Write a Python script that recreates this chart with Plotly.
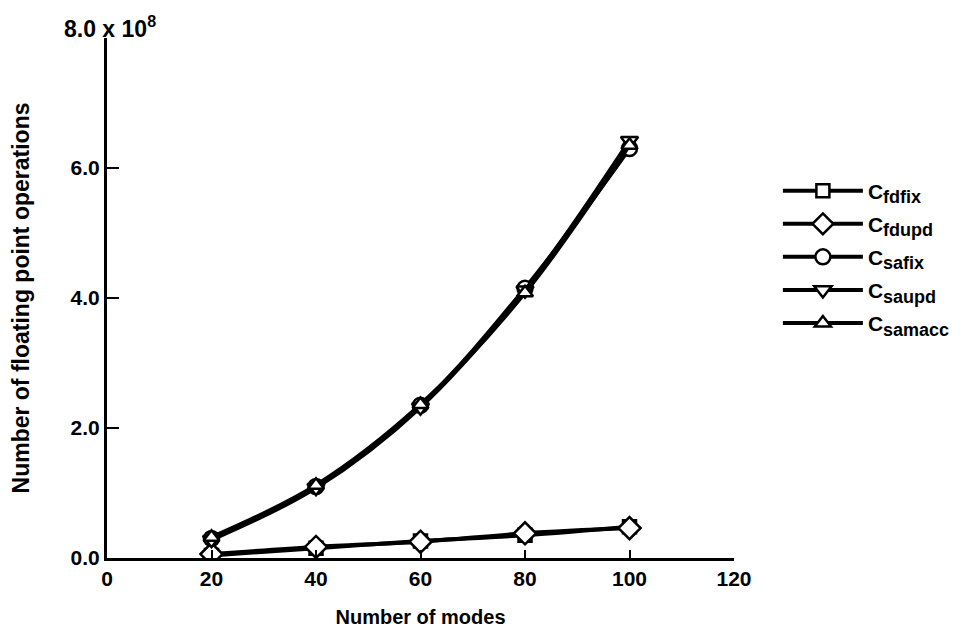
import plotly.graph_objects as go

# number of modes
modes = [20, 40, 60, 80, 100]

# floating point operations (units of 1e8)
c_fdfix = [0.04, 0.15, 0.26, 0.35, 0.48]
c_fdupd = [0.06, 0.17, 0.25, 0.38, 0.46]
c_safix = [0.30, 1.10, 2.35, 4.15, 6.30]
c_saupd = [0.28, 1.08, 2.32, 4.12, 6.42]
c_samacc = [0.32, 1.12, 2.36, 4.08, 6.35]

names = ["fdfix", "fdupd", "safix", "saupd", "samacc"]
values = [c_fdfix, c_fdupd, c_safix, c_saupd, c_samacc]
symbols = ["square", "diamond", "circle", "triangle-down", "triangle-up"]
sizes = [13, 17, 15, 15, 14]

FONT = "Liberation Sans, Arial, sans-serif"
TXT = dict(family=FONT, size=21, color="black", weight="bold")

fig = go.Figure()
for nm, vals, sym, size in zip(names, values, symbols, sizes):
    fig.add_trace(go.Scatter(
        x=modes, y=vals, mode="lines+markers",
        name="C<sub><span style='font-size:18px'>%s</span></sub>" % nm,
        legendgroup=nm,
        line=dict(color="black", width=4, shape="spline"),
        marker=dict(symbol=sym, size=size, color="white",
                    line=dict(color="black", width=2.5)),
    ))

fig.update_xaxes(
    range=[0, 120], tickvals=[0, 20, 40, 60, 80, 100, 120],
    ticks="inside", ticklen=8, tickwidth=2, tickcolor="black",
    showline=True, linecolor="black", linewidth=2.5,
    showgrid=False, zeroline=False, automargin=False,
    tickfont=TXT,
    title=dict(text="Number of modes", font=dict(TXT, size=20), standoff=22),
)
fig.update_yaxes(
    range=[0, 8], tickvals=[0, 2, 4, 6, 8],
    ticktext=["0.0", "2.0", "4.0", "6.0", ""],
    ticks="inside", ticklen=12, tickwidth=2, tickcolor="black",
    showline=True, linecolor="black", linewidth=3,
    showgrid=False, zeroline=False, automargin=False,
    tickfont=TXT,
    title=dict(text="Number of floating point operations",
               font=dict(TXT, size=23), standoff=41),
)

fig.add_annotation(
    xref="paper", yref="paper", x=0, y=1, xshift=-45, yshift=11,
    xanchor="left", yanchor="middle", showarrow=False,
    text="8.0 x 10<sup>8</sup>", font=dict(TXT, size=23),
)

# page body has an 8px margin, so the figure is drawn 8px smaller
fig.update_layout(
    width=959, height=624,
    margin=dict(l=99, r=231, t=30, b=74),
    plot_bgcolor="white", paper_bgcolor="white",
    font=dict(family=FONT, color="black"),
    showlegend=True,
    legend=dict(x=1.07, y=0.745, xanchor="left", yanchor="top",
                font=dict(TXT, size=21), tracegroupgap=2.75,
                itemwidth=80, bgcolor="rgba(0,0,0,0)"),
)

fig.write_html("out.html")
